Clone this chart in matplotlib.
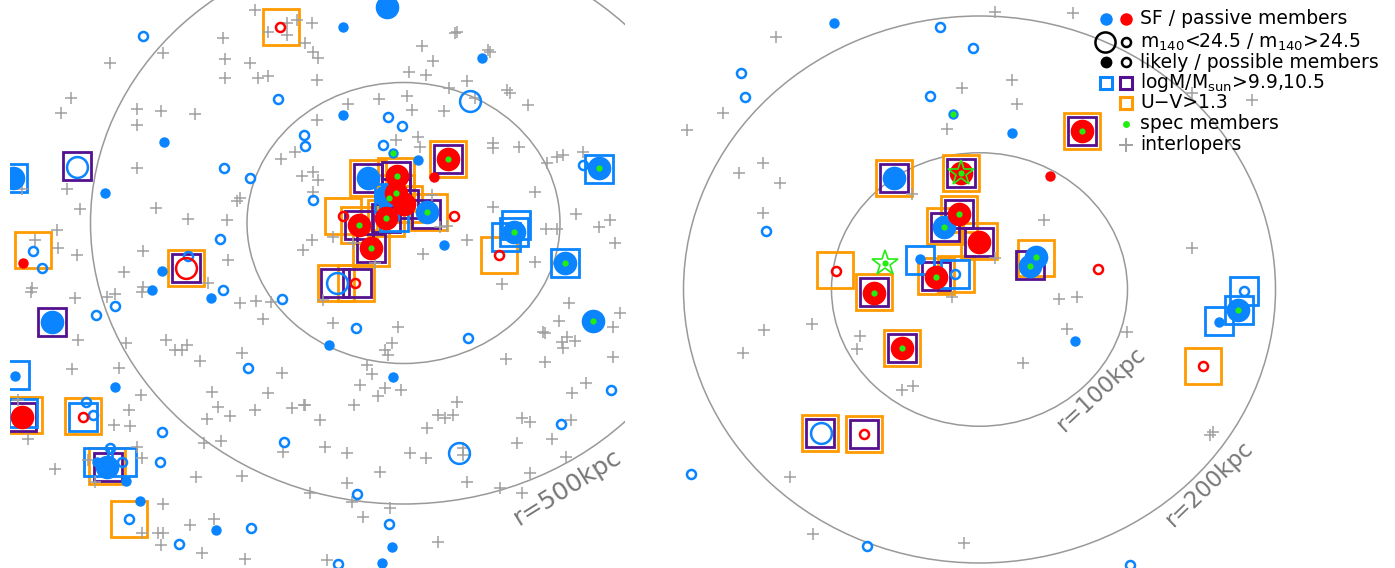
import matplotlib
matplotlib.use('Agg')
import matplotlib.pyplot as plt
from matplotlib.patches import Ellipse

# ---------------- data (image pixel coordinates of galaxies) ----------------
# Left field (r=250/500 kpc rings)
L_centre = (403.5, 223.0)
L_radii_kpc = [250, 500]
L_cross_x = [255,268,287,297,312,287,305,313,318,223,225,250,225,258,268,317,163,110,71,61,137,137,161,195,317,295,281,313,302,318,
             137,67,22,80,156,188,227,240,237,313,312,303,57,35,58,77,143,124,228,208,32,143,
             31,75,107,115,142,78,126,72,119,166,175,182,187,200,240,256,271,263,242,282,212,218,230,255,207,268,292,304,141,129,114,130,
             18,28,204,221,137,142,88,55,95,196,242,283,310,163,190,214,142,158,163,161,202,245,
             502,323,333,398,392,385,388,367,372,360,385,378,401,305,354,457,438,445,453,427,320,325,347,410,426,463,463,380,347,500,
             522,530,566,517,552,522,530,571,572,586,613,545,506,563,562,567,575,559,569,543,545,620,613,390,363,438,327,352,467,
             457,455,422,433,488,490,409,426,467,449,507,510,475,379,407,348,412,444,528,418,420,396,493,493,519,557,547,563,583,
             535,493,576,599,610,546,557,615,467,423,535,432,440,447,333,353,375]
L_cross_y = [10,32,23,20,23,35,43,52,58,38,59,63,78,78,76,80,53,63,98,113,109,125,111,114,120,152,159,172,176,180,
             168,189,189,209,208,219,220,198,201,192,240,250,230,240,248,255,251,272,260,283,288,287,
             292,298,297,294,292,340,343,369,368,340,350,350,345,361,303,301,302,319,353,373,392,407,416,410,419,393,408,405,395,410,425,426,
             400,439,443,441,447,458,460,469,482,477,476,452,493,504,525,519,533,533,533,545,553,559,
             284,300,323,327,343,350,355,365,374,385,388,396,390,405,405,402,415,418,415,428,420,447,453,453,458,448,455,472,483,488,
             493,473,457,443,439,418,422,420,393,383,357,362,359,348,342,337,341,321,303,332,333,313,327,508,517,542,560,502,482,
             32,33,46,61,50,52,72,75,81,88,90,93,98,99,96,104,110,111,105,137,147,140,143,148,147,157,163,155,152,
             192,207,214,227,220,229,229,243,240,254,262,195,227,226,237,243,263]
L_sf_big_x = [387,13,52,107,368,386,427,593,514,565,599]
L_sf_big_y = [7,178,322,467,178,196,212,321,232,263,168]
L_sf_small_x = [164,105,162,152,211,115,126,140,216,15,97,329,393,392,382,343,482,343,418,444,393]
L_sf_small_y = [142,193,271,290,298,387,481,501,530,376,462,345,377,547,563,27,58,115,160,245,153]
L_sf_bigopen_x = [77,470,459,337]
L_sf_bigopen_y = [167,101,453,283]
L_sf_open_x = [143,278,304,305,224,250,313,33,42,220,188,223,115,96,282,248,162,160,284,251,179,86,93,110,122,129,
               356,468,611,561,357,389,338,388,402,383,583,394]
L_sf_open_y = [36,99,135,146,168,178,200,251,268,239,256,290,306,315,299,368,432,462,442,528,544,402,415,448,462,519,
               328,338,390,424,494,524,564,117,126,145,165,217]
L_pa_big_x = [22,448,397,396,404,386,359,371]
L_pa_big_y = [417,159,176,193,204,218,225,248]
L_pa_small_x = [23,434]
L_pa_small_y = [263,177]
L_pa_bigopen_x = [186]
L_pa_bigopen_y = [268]
L_pa_open_x = [280,83,343,454,499,355]
L_pa_open_y = [27,417,216,216,255,283]
L_spec_x = [393,448,397,396,389,427,386,359,371,514,565,599,593]
L_spec_y = [153,159,176,193,198,212,218,225,248,232,263,168,321]
L_m105_x = [77,186,52,22,108,448,368,396,396,404,426,386,359,371,335,357]
L_m105_y = [166,268,322,417,467,159,178,176,193,204,214,218,225,248,283,283]
L_m99_x = [13,15,23,83,98,122,389,394,516,514,506,565,599]
L_m99_y = [178,375,413,417,462,462,198,217,225,232,237,263,169]
L_uv_x = [281,33,186,24,83,107,129,448,368,396,396,404,429,386,359,371,343,499,336,356]
L_uv_y = [27,250,268,415,416,466,519,159,178,176,193,204,212,218,225,248,216,255,283,283]

# Right field (r=100/200 kpc rings)
R_centre = (979.5, 289.5)
R_radii_kpc = [100, 200]
R_cross_x = [995,1073,776,723,687,763,739,780,962,1012,1017,947,912,1044,995,952,1059,1077,1067,812,860,857,1023,902,913,
             764,743,790,813,964,1192,1127,1210,1213,763,1192,1252]
R_cross_y = [12,13,37,113,130,163,173,183,88,80,104,129,194,220,258,297,299,297,329,324,336,349,363,390,386,
             330,353,477,534,543,248,332,435,432,213,93,100]
R_sf_big_x = [894,944,1036,1030,1238]
R_sf_big_y = [178,227,257,266,310]
R_sf_small_x = [834,1012,920,1075,1219,953]
R_sf_small_y = [23,133,259,341,322,114]
R_sf_bigopen_x = [821]
R_sf_bigopen_y = [433]
R_sf_open_x = [940,973,741,745,930,766,955,691,867,1244,1130]
R_sf_open_y = [27,48,73,97,96,231,274,474,546,291,565]
R_pa_big_x = [961,959,979,936,874,902,1082]
R_pa_big_y = [173,214,242,277,293,348,131]
R_pa_small_x = [1050]
R_pa_small_y = [176]
R_pa_open_x = [836,1098,864,1203]
R_pa_open_y = [271,269,434,366]
R_spec_x = [953,961,959,944,936,874,902,1082,1036,1030,1238,885]
R_spec_y = [114,173,214,227,277,293,348,131,257,266,310,263]
R_star_x = [961,885]
R_star_y = [173,263]
R_m105_x = [894,961,959,945,979,936,874,902,1030,820,864,1082]
R_m105_y = [178,173,214,227,242,276,292,348,265,433,434,131]
R_m99_x = [920,955,1244,1239,1219]
R_m99_y = [260,274,291,310,321]
R_uv_x = [894,961,959,945,979,835,936,956,874,1036,902,820,864,1203,1082]
R_uv_y = [178,173,214,226,241,270,276,274,292,258,348,433,434,366,131]

legend_labels = ['SF / passive members', r'm$_{140}$<24.5 / m$_{140}$>24.5', 'likely / possible members',
                 r'logM/M$_{\rm sun}$>9.9,10.5', 'U\u2212V>1.3', 'spec members', 'interlopers']

# ---------------- style ----------------
BLUE = '#0a84ff'; RED = '#ff0000'; PURPLE = '#55108f'; ORANGE = '#ff9a00'
GREEN = '#22ee11'; GRAY = '#a0a0a0'; RING = '#999999'

W, H = 1395, 568
fig = plt.figure(figsize=(W/100, H/100), dpi=100)
fig.patch.set_facecolor('white')


def panel(rect, xlim, ylim):
    ax = fig.add_axes(rect)
    ax.set_xlim(*xlim)
    ax.set_ylim(*ylim)
    ax.axis('off')
    return ax


def rings(ax, centre, radii, sx, sy):
    for r in radii:
        ax.add_patch(Ellipse(centre, 2*r*sx, 2*r*sy, fill=False, ec=RING, lw=1.1, zorder=1))


def draw(ax, d):
    kw = dict(ls='none', mfc='none', mew=2.0)
    ax.plot(d['uv'][0], d['uv'][1], 's', ms=26.5, mec=ORANGE, zorder=2, **kw)
    ax.plot(d['m105'][0], d['m105'][1], 's', ms=20, mec=PURPLE, zorder=3, **kw)
    ax.plot(d['m99'][0], d['m99'][1], 's', ms=20, mec=BLUE, zorder=3, **kw)
    ax.plot(d['cross'][0], d['cross'][1], '+', ls='none', ms=8.5, mew=1.1, color=GRAY, zorder=4)
    for key, col in (('sf', BLUE), ('pa', RED)):
        ax.plot(d[key+'_big'][0], d[key+'_big'][1], 'o', ls='none', ms=17, mfc=col, mec=col, mew=0, zorder=5)
        ax.plot(d[key+'_small'][0], d[key+'_small'][1], 'o', ls='none', ms=7.5, mfc=col, mec=col, mew=0, zorder=5)
        ax.plot(d[key+'_bigopen'][0], d[key+'_bigopen'][1], 'o', ls='none', ms=15, mfc='none', mec=col, mew=1.8, zorder=5)
        ax.plot(d[key+'_open'][0], d[key+'_open'][1], 'o', ls='none', ms=6.5, mfc='none', mec=col, mew=1.8, zorder=5)
    ax.plot(d['spec'][0], d['spec'][1], 'o', ls='none', ms=4.5, mfc=GREEN, mec=GREEN, mew=0, zorder=6)
    if 'star' in d:
        ax.plot(d['star'][0], d['star'][1], '*', ls='none', ms=19, mfc='none', mec=GREEN, mew=1.2, zorder=7)


# left panel
axL = panel([10/W, 0, 615/W, 1], (10, 625), (568, 0))
rings(axL, L_centre, L_radii_kpc, 0.626, 0.562)
draw(axL, dict(cross=(L_cross_x, L_cross_y), sf_big=(L_sf_big_x, L_sf_big_y), sf_small=(L_sf_small_x, L_sf_small_y),
               sf_bigopen=(L_sf_bigopen_x, L_sf_bigopen_y), sf_open=(L_sf_open_x, L_sf_open_y),
               pa_big=(L_pa_big_x, L_pa_big_y), pa_small=(L_pa_small_x, L_pa_small_y),
               pa_bigopen=(L_pa_bigopen_x, L_pa_bigopen_y), pa_open=(L_pa_open_x, L_pa_open_y),
               spec=(L_spec_x, L_spec_y), m105=(L_m105_x, L_m105_y), m99=(L_m99_x, L_m99_y), uv=(L_uv_x, L_uv_y)))
axL.text(567, 487, 'r=500kpc', rotation=32, ha='center', va='center', rotation_mode='anchor',
         fontsize=18, color='#777777', zorder=8)

# right panel
axR = panel([680/W, 0, 715/W, 1], (680, 1395), (568, 0))
rings(axR, R_centre, R_radii_kpc, 1.48, 1.3675)
draw(axR, dict(cross=(R_cross_x, R_cross_y), sf_big=(R_sf_big_x, R_sf_big_y), sf_small=(R_sf_small_x, R_sf_small_y),
               sf_bigopen=(R_sf_bigopen_x, R_sf_bigopen_y), sf_open=(R_sf_open_x, R_sf_open_y),
               pa_big=(R_pa_big_x, R_pa_big_y), pa_small=(R_pa_small_x, R_pa_small_y),
               pa_bigopen=([], []), pa_open=(R_pa_open_x, R_pa_open_y),
               spec=(R_spec_x, R_spec_y), star=(R_star_x, R_star_y),
               m105=(R_m105_x, R_m105_y), m99=(R_m99_x, R_m99_y), uv=(R_uv_x, R_uv_y)))
axR.text(1101, 389, 'r=100kpc', rotation=43, ha='center', va='center', rotation_mode='anchor',
         fontsize=16.5, color='#777777', zorder=8)
axR.text(1209, 484, 'r=200kpc', rotation=44, ha='center', va='center', rotation_mode='anchor',
         fontsize=16.5, color='#777777', zorder=8)

# legend (drawn in axes fraction of the right panel)
tr = axR.transAxes
rows_y = [19, 42, 62, 83, 103, 124, 145]
def fx(px):
    return (px - 680) / 715
def fy(py):
    return 1 - py / 568
x1, x2, xt = fx(1106), fx(1126), fx(1140)
lk = dict(transform=tr, ls='none', clip_on=False, zorder=9)
axR.plot([x1], [fy(rows_y[0])], 'o', ms=9, mfc=BLUE, mec=BLUE, mew=0, **lk)
axR.plot([x2], [fy(rows_y[0])], 'o', ms=9, mfc=RED, mec=RED, mew=0, **lk)
axR.plot([x1 - 0.0015], [fy(rows_y[1])], 'o', ms=14.5, mfc='none', mec='black', mew=1.8, **lk)
axR.plot([x2], [fy(rows_y[1])], 'o', ms=6.5, mfc='none', mec='black', mew=1.8, **lk)
axR.plot([x1], [fy(rows_y[2])], 'o', ms=8.5, mfc='black', mec='black', mew=0, **lk)
axR.plot([x2], [fy(rows_y[2])], 'o', ms=6.5, mfc='none', mec='black', mew=1.8, **lk)
axR.plot([x1], [fy(rows_y[3])], 's', ms=9, mfc='none', mec=BLUE, mew=2.2, **lk)
axR.plot([x2], [fy(rows_y[3])], 's', ms=9, mfc='none', mec=PURPLE, mew=2.2, **lk)
axR.plot([x2], [fy(rows_y[4])], 's', ms=9, mfc='none', mec=ORANGE, mew=2.2, **lk)
axR.plot([x2], [fy(rows_y[5])], 'o', ms=5, mfc=GREEN, mec=GREEN, mew=0, **lk)
axR.plot([x2], [fy(rows_y[6])], '+', ms=10, mew=1.4, color=GRAY, **lk)
for lab, yy in zip(legend_labels, rows_y):
    axR.text(xt, fy(yy), lab, transform=tr, ha='left', va='center', fontsize=13.5, color='black', zorder=9)

fig.savefig('out.png', dpi=100, facecolor='white')
